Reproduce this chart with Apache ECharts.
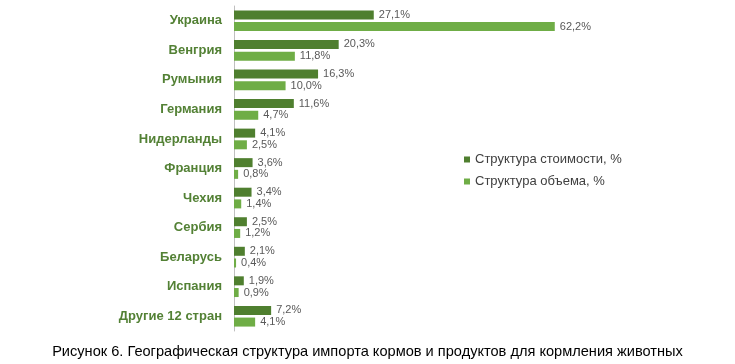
<!DOCTYPE html>
<html><head><meta charset="utf-8">
<script src="https://cdn.jsdelivr.net/npm/echarts@6/dist/echarts.min.js"></script>
<style>html,body{margin:0;padding:0;background:#fff}#c{width:735px;height:364px}</style>
</head><body><div id="c"></div>
<script>
const categories = ["Украина","Венгрия","Румыния","Германия","Нидерланды","Франция","Чехия","Сербия","Беларусь","Испания","Другие 12 стран"];
const costShare = [27.1,20.3,16.3,11.6,4.1,3.6,3.4,2.5,2.1,1.9,7.2];
const volumeShare = [62.2,11.8,10.0,4.7,2.5,0.8,1.4,1.2,0.4,0.9,4.1];
const seriesNames = ["Структура стоимости, %","Структура объема, %"];
const caption = "Рисунок 6. Географическая структура импорта кормов и продуктов для кормления животных";

const fmt = p => p.value.toFixed(1).replace('.', ',') + '%';
const chart = echarts.init(document.getElementById('c'));
chart.setOption({
  animation:false,
  textStyle:{fontFamily:'Liberation Sans, Arial, sans-serif'},
  title:{text:caption,left:'center',bottom:0,textStyle:{fontSize:14.6,fontWeight:'normal',color:'#000',fontFamily:'Liberation Sans, Arial, sans-serif'}},
  legend:{orient:'vertical',left:459,top:148,itemWidth:6,itemHeight:6,itemGap:9,icon:'rect',
    textStyle:{fontSize:13,color:'#404040'},data:seriesNames},
  grid:{left:234,top:6,width:361,height:325,containLabel:false},
  xAxis:{type:'value',min:0,max:70,show:false},
  yAxis:{type:'category',data:categories,inverse:true,
    axisLine:{show:true,lineStyle:{color:'#bfbfbf'}},axisTick:{show:false},
    axisLabel:{fontSize:13,fontWeight:'bold',color:'#538135',margin:12}},
  series:[
    {name:seriesNames[0],type:'bar',data:costShare,barWidth:9,barGap:'30%',itemStyle:{color:'#4f7f2f'},
     label:{show:true,position:'right',distance:5,fontSize:11,color:'#595959',formatter:fmt}},
    {name:seriesNames[1],type:'bar',data:volumeShare,barWidth:9,itemStyle:{color:'#6fad46'},
     label:{show:true,position:'right',distance:5,fontSize:11,color:'#595959',formatter:fmt}}
  ]
});
</script></body></html>
